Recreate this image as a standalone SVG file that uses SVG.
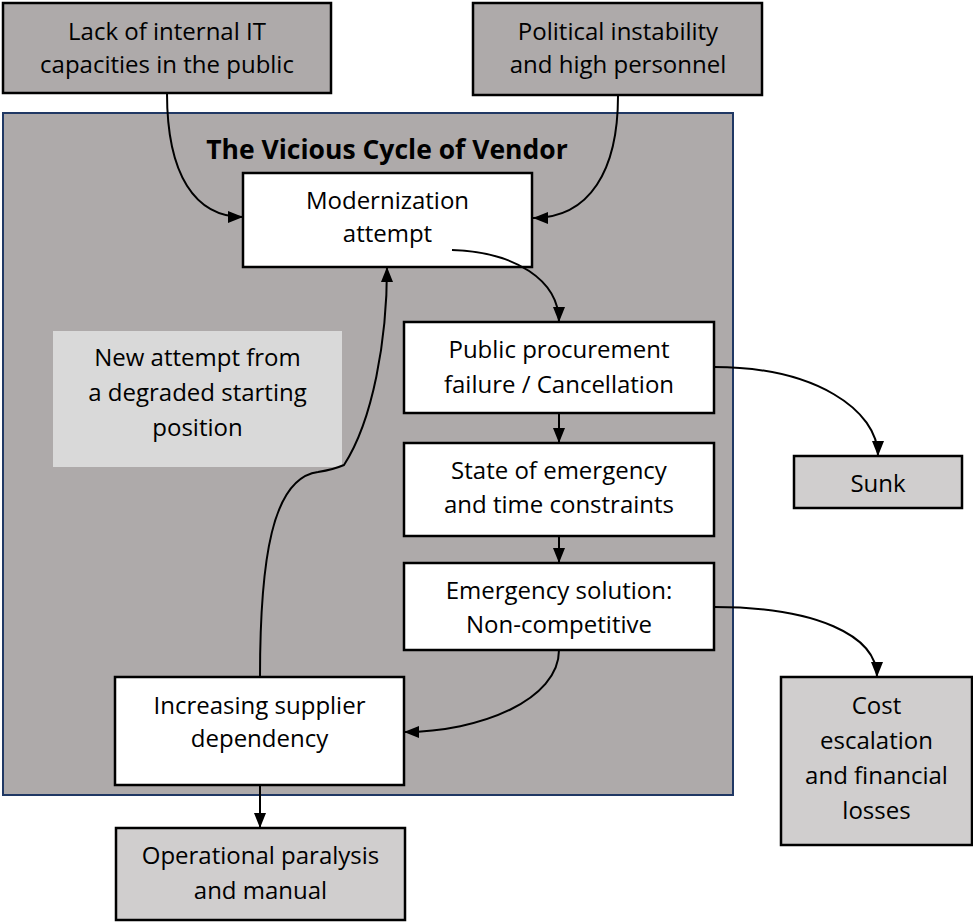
<svg xmlns="http://www.w3.org/2000/svg" width="973" height="922" viewBox="0 0 973 922">
<style>
.t{font-family:"Open Sans","Liberation Sans",sans-serif;font-size:24px;fill:#000;text-anchor:middle}
.title{font-family:"Open Sans","Liberation Sans",sans-serif;font-size:26.5px;font-weight:bold;fill:#000;text-anchor:middle}
.dark{fill:#aeaaaa;stroke:#000;stroke-width:2.5}
.white{fill:#fff;stroke:#000;stroke-width:2.5}
.light{fill:#d0cece;stroke:#000;stroke-width:2.5}
.c{fill:none;stroke:#000;stroke-width:2}
</style>
<defs>
<marker id="ah" markerUnits="userSpaceOnUse" markerWidth="16" markerHeight="14" refX="15" refY="7" orient="auto">
<path d="M0,1 L15,7 L0,13 z" fill="#000"/>
</marker>
</defs>
<g id="container">
<rect x="3" y="113" width="730" height="682" fill="#aeaaaa" stroke="#203864" stroke-width="2"/>
<text class="title" x="387" y="159">The Vicious Cycle of Vendor</text>
</g>
<g id="label-new-attempt">
<rect x="53" y="331" width="289" height="136" fill="#d9d9d9"/>
<text class="t" x="197.5" y="366">New attempt from</text>
<text class="t" x="197.5" y="401">a degraded starting</text>
<text class="t" x="197.5" y="436">position</text>
</g>
<g id="lack">
<rect class="dark" x="3" y="3" width="328" height="90"/>
<text class="t" x="167" y="39.5">Lack of internal IT</text>
<text class="t" x="167" y="73">capacities in the public</text>
</g>
<g id="political">
<rect class="dark" x="473" y="3" width="289" height="92"/>
<text class="t" x="618" y="39.5">Political instability</text>
<text class="t" x="618" y="73">and high personnel</text>
</g>
<g id="modernization">
<rect class="white" x="243" y="173" width="289" height="94"/>
<text class="t" x="387.5" y="209">Modernization</text>
<text class="t" x="387.5" y="242">attempt</text>
</g>
<g id="procurement">
<rect class="white" x="404" y="322" width="310" height="91"/>
<text class="t" x="559" y="358">Public procurement</text>
<text class="t" x="559" y="393">failure / Cancellation</text>
</g>
<g id="emergency-state">
<rect class="white" x="404" y="443" width="310" height="93"/>
<text class="t" x="559" y="479">State of emergency</text>
<text class="t" x="559" y="513">and time constraints</text>
</g>
<g id="emergency-solution">
<rect class="white" x="404" y="563" width="310" height="87"/>
<text class="t" x="559" y="599">Emergency solution:</text>
<text class="t" x="559" y="633">Non-competitive</text>
</g>
<g id="sunk">
<rect class="light" x="794" y="456" width="168" height="52"/>
<text class="t" x="878" y="492">Sunk</text>
</g>
<g id="cost">
<rect class="light" x="781" y="677" width="191" height="168"/>
<text class="t" x="876.5" y="714">Cost</text>
<text class="t" x="876.5" y="749">escalation</text>
<text class="t" x="876.5" y="784">and financial</text>
<text class="t" x="876.5" y="819">losses</text>
</g>
<g id="dependency">
<rect class="white" x="115" y="677" width="289" height="108"/>
<text class="t" x="259.5" y="714">Increasing supplier</text>
<text class="t" x="259.5" y="747">dependency</text>
</g>
<g id="paralysis">
<rect class="light" x="116" y="828" width="289" height="92"/>
<text class="t" x="260.5" y="864">Operational paralysis</text>
<text class="t" x="260.5" y="899">and manual</text>
</g>
<g id="connectors">
<path class="c" marker-end="url(#ah)" d="M167,93 C167,175 195,217 243,217"/>
<path class="c" marker-end="url(#ah)" d="M618,96 C618,170 590,218 533,218"/>
<path class="c" marker-end="url(#ah)" d="M452,250 C515,252 559,280 559,322"/>
<path class="c" marker-end="url(#ah)" d="M559,413 L559,443"/>
<path class="c" marker-end="url(#ah)" d="M559,536 L559,563"/>
<path class="c" marker-end="url(#ah)" d="M714,367 C815,367 878,410 878,456"/>
<path class="c" marker-end="url(#ah)" d="M714,607 C815,607 877,635 877,677"/>
<path class="c" marker-end="url(#ah)" d="M559,650 C559,700 480,732 404,732"/>
<path class="c" marker-end="url(#ah)" d="M260,785 L260,828"/>
<path class="c" marker-end="url(#ah)" d="M260,677 C260,560 272,478 318,472 C330,470 337,468 344,465 C373,420 387,340 387,267"/>
</g>
</svg>
